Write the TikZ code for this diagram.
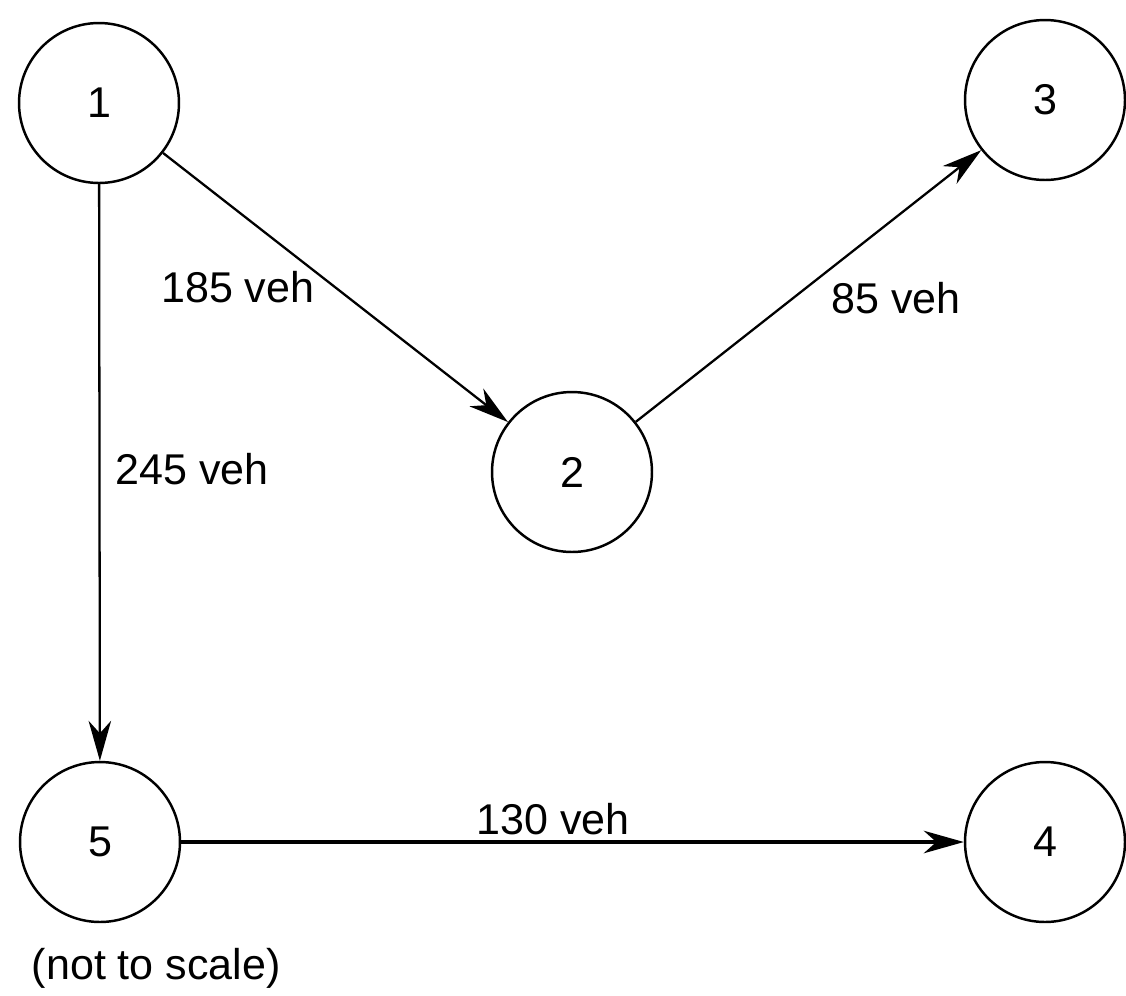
\documentclass[tikz,border=0pt]{standalone}
\usepackage{fontspec}
\setmainfont{Liberation Sans}
\usetikzlibrary{arrows.meta, positioning}

\begin{document}
\begin{tikzpicture}[
		x=0.02cm, y=-0.02cm,
		font=\fontsize{24.5}{29}\selectfont,
		junction/.style={circle, draw, line width=1.4pt, minimum size=3.2cm, inner sep=0pt},
		flow/.style={-{Stealth[length=8mm, width=4.5mm, inset=2.5mm]}, line width=1.3pt}
		]
		\useasboundingbox (0,0) rectangle (1126,995);
		% 1. Junctions
		\node[junction] (n1) at (99,103) {1};
		\node[junction] (n2) at (572,472) {2};
		\node[junction] (n3) at (1045,100) {3};
		\node[junction] (n4) at (1045,842) {4};
		\node[junction] (n5) at (100,842) {5};
		
		% 2. Flows between junctions
		\draw[flow] (n1) -- node[left, xshift=-8pt]{185 veh} (n2);
		\draw[flow] (n2) -- node[right, xshift=9pt, yshift=-7pt]{85 veh} (n3);
		\draw[flow] (n1) -- node[right, xshift=5pt, yshift=2pt]{245 veh} (n5);
		\draw[flow, line width=1.9pt] (n5) -- node[above, pos=0.475]{130 veh} (n4);
		
		% 3. Note
		\node[below=11pt of n5, xshift=32pt] (note) {(not to scale)};
		
	\end{tikzpicture}
\end{document}
